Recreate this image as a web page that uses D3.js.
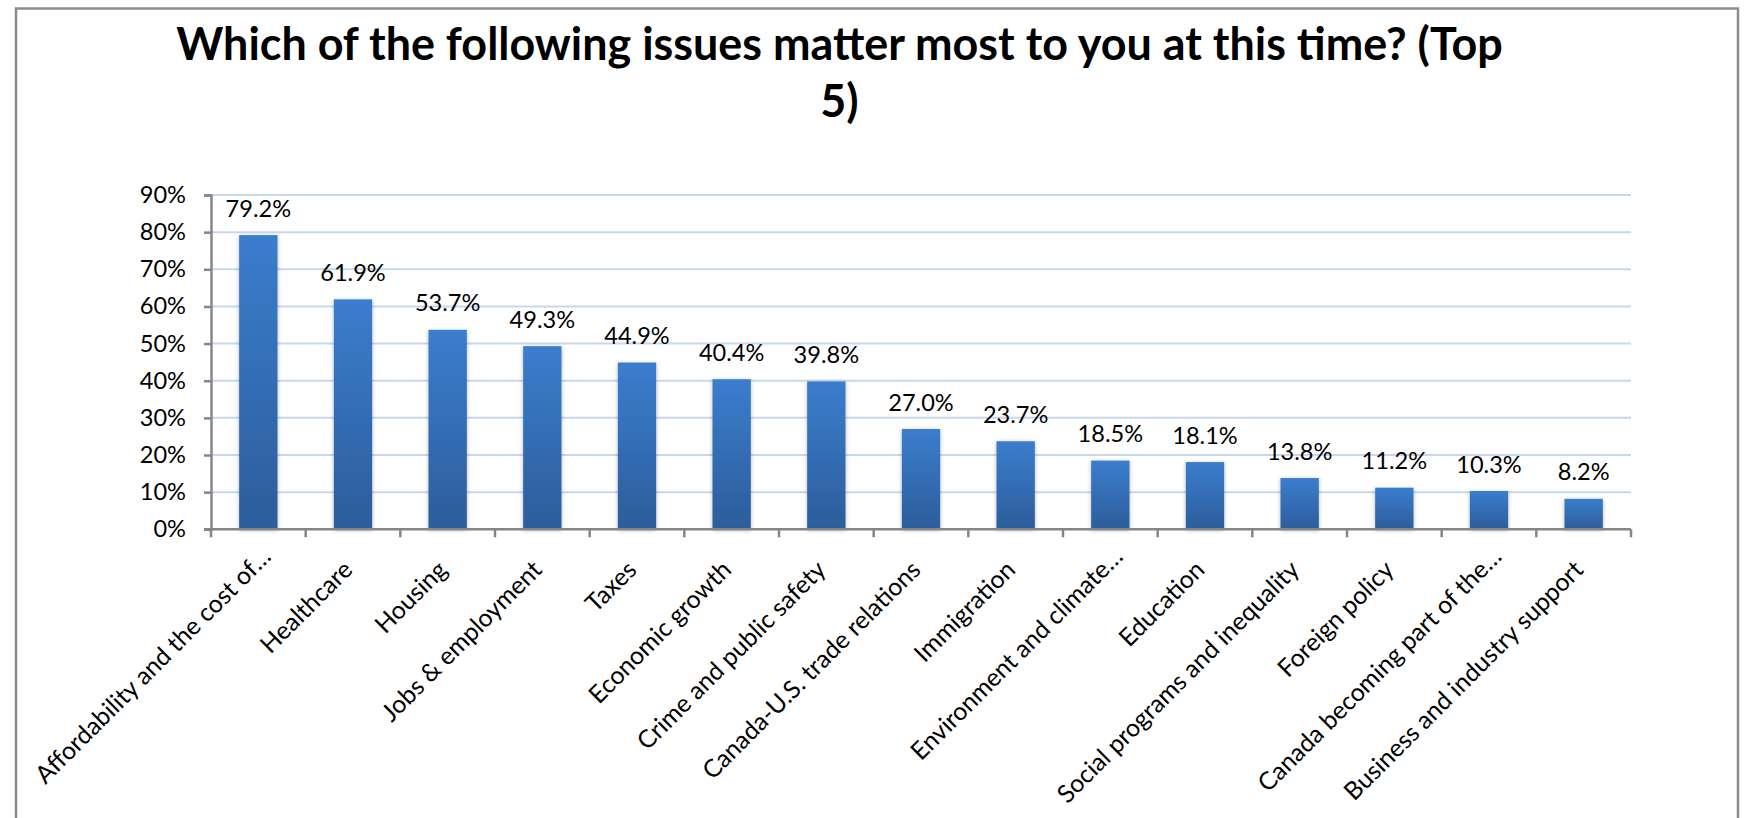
<!DOCTYPE html>
<html>
<head>
<meta charset="utf-8">
<script src="https://cdn.jsdelivr.net/npm/d3@7"></script>
<style>
  body { margin: 0; background: #fff; }
  text { font-family: Lato, "Open Sans", sans-serif; fill: #000; }
</style>
</head>
<body>
<div id="chart-area"></div>
<script>
// survey answers, share of respondents picking each issue in their top 5
const issues = [
	"Affordability and the cost of…",
	"Healthcare",
	"Housing",
	"Jobs & employment",
	"Taxes",
	"Economic growth",
	"Crime and public safety",
	"Canada-U.S. trade relations",
	"Immigration",
	"Environment and climate…",
	"Education",
	"Social programs and inequality",
	"Foreign policy",
	"Canada becoming part of the…",
	"Business and industry support"
]
const shares = [79.2, 61.9, 53.7, 49.3, 44.9, 40.4, 39.8, 27.0, 23.7, 18.5, 18.1, 13.8, 11.2, 10.3, 8.2]
const yTicks = [0, 10, 20, 30, 40, 50, 60, 70, 80, 90]
const titleLines = ["Which of the following issues matter most to you at this time? (Top", "5)"]

const W = 1751, H = 818
const plot = { left: 211, right: 1631, top: 195, bottom: 529.3 }

const svg = d3.select("#chart-area").append("svg")
	.attr("width", W)
	.attr("height", H)

const defs = svg.append("defs")
const grad = defs.append("linearGradient")
	.attr("id", "barFill")
	.attr("x1", 0).attr("y1", 0).attr("x2", 0).attr("y2", 1)
grad.append("stop").attr("offset", "0%").attr("stop-color", "#3b7dcd")
grad.append("stop").attr("offset", "100%").attr("stop-color", "#2c5d9b")

const shadow = defs.append("filter")
	.attr("id", "soft")
	.attr("x", "-30%").attr("y", "-10%").attr("width", "160%").attr("height", "120%")
shadow.append("feDropShadow")
	.attr("dx", 0).attr("dy", 1)
	.attr("stdDeviation", 2.2)
	.attr("flood-color", "#000")
	.attr("flood-opacity", 0.28)

svg.append("rect")
	.attr("width", W).attr("height", H)
	.attr("fill", "#fff")

// chart frame (bottom edge runs off the picture)
svg.append("rect")
	.attr("x", 16).attr("y", 8.5)
	.attr("width", 1722).attr("height", 900)
	.attr("fill", "none")
	.attr("stroke", "#8c8c8c")
	.attr("stroke-width", 2.5)

// work out font sizes from the widths seen in the picture
const probe = svg.append("text").attr("font-size", 100)
const fitSize = (str, target, weight) => {
	probe.attr("font-weight", weight).text(str)
	return 100 * target / probe.node().getComputedTextLength()
}
const labelSize = fitSize("79.2%", 65.5, "normal")
const catSize = labelSize * 1.05
const titleSize = fitSize(titleLines[0], 1327, "bold")
probe.remove()

const x = d3.scaleBand()
	.domain(issues)
	.range([plot.left, plot.right])
	.paddingInner(0.595)
	.paddingOuter(0.2975)

const y = d3.scaleLinear()
	.domain([0, 90])
	.range([plot.bottom, plot.top])

// gridlines
svg.append("g")
	.selectAll("line")
	.data(yTicks.filter(d => d > 0))
	.enter().append("line")
	.attr("x1", plot.left)
	.attr("x2", plot.right)
	.attr("y1", d => y(d))
	.attr("y2", d => y(d))
	.attr("stroke", "#c8d7eb")
	.attr("stroke-width", 2)

// bars
svg.append("g")
	.selectAll("rect")
	.data(shares)
	.enter().append("rect")
	.attr("x", (d, i) => x(issues[i]))
	.attr("y", d => y(d))
	.attr("width", x.bandwidth())
	.attr("height", d => y(0) - y(d))
	.attr("fill", "url(#barFill)")
	.attr("filter", "url(#soft)")

// y axis
const axisLeft = d3.axisLeft(y)
	.tickValues(yTicks)
	.tickSize(7)
	.tickPadding(18)
	.tickFormat(d => d + "%")
const yAxis = svg.append("g")
	.attr("transform", `translate(${plot.left},0)`)
	.call(axisLeft)
yAxis.select(".domain").attr("stroke", "#868686").attr("stroke-width", 2.5)
yAxis.selectAll(".tick line").attr("stroke", "#868686").attr("stroke-width", 2.5)
yAxis.selectAll(".tick text")
	.attr("font-size", labelSize)
	.attr("font-family", "Lato, sans-serif")
	.attr("fill", "#000")

// x axis line with ticks between categories
const xAxis = svg.append("g")
xAxis.append("line")
	.attr("x1", plot.left - 7).attr("x2", plot.right)
	.attr("y1", y(0)).attr("y2", y(0))
	.attr("stroke", "#868686").attr("stroke-width", 2.5)
xAxis.selectAll(".xtick")
	.data(d3.range(issues.length + 1))
	.enter().append("line")
	.attr("class", "xtick")
	.attr("x1", i => plot.left + i * x.step())
	.attr("x2", i => plot.left + i * x.step())
	.attr("y1", y(0))
	.attr("y2", y(0) + 8)
	.attr("stroke", "#868686").attr("stroke-width", 2.5)

// category labels, rotated; the trailing ellipsis sticks out past the anchor
const catLabels = svg.append("g")
issues.forEach(name => {
	const cx = x(name) + x.bandwidth() / 2 + 1
	const cy = y(0) + 42
	const cut = name.endsWith("…")
	catLabels.append("text")
		.attr("transform", `translate(${cx},${cy}) rotate(-45)`)
		.attr("text-anchor", "end")
		.attr("font-size", catSize)
		.text(cut ? name.slice(0, -1) : name)
	if (cut) {
		catLabels.append("text")
			.attr("transform", `translate(${cx},${cy}) rotate(-45)`)
			.attr("text-anchor", "start")
			.attr("font-size", catSize)
			.text("…")
	}
})

// value labels
svg.append("g")
	.selectAll("text")
	.data(shares)
	.enter().append("text")
	.attr("x", (d, i) => x(issues[i]) + x.bandwidth() / 2)
	.attr("y", d => y(d) - 18.5)
	.attr("text-anchor", "middle")
	.attr("font-size", labelSize)
	.text(d => d.toFixed(1) + "%")

// title
svg.append("g")
	.selectAll("text")
	.data(titleLines)
	.enter().append("text")
	.attr("x", 839.5)
	.attr("y", (d, i) => 60 + i * 57)
	.attr("text-anchor", "middle")
	.attr("font-weight", "bold")
	.attr("font-size", titleSize)
	.text(d => d)
</script>
</body>
</html>
